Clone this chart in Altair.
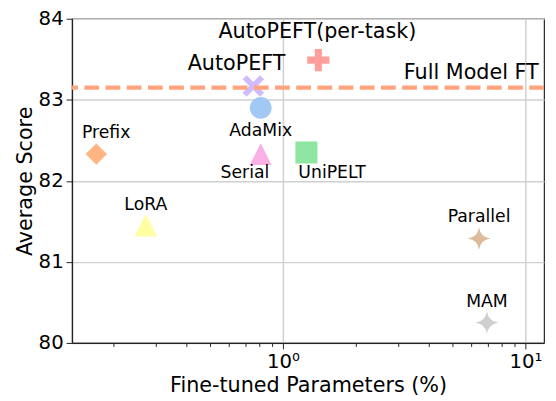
import altair as alt
import pandas as pd

methods = ["Prefix", "AutoPEFT", "AdaMix", "Serial", "UniPELT",
           "AutoPEFT(per-task)", "LoRA", "Parallel", "MAM"]
params = [0.17, 0.755, 0.81, 0.81, 1.25, 1.40, 0.272, 6.44, 6.94]
scores = [82.33, 83.17, 82.90, 82.33, 82.35, 83.49, 81.45, 81.29, 80.25]
colors = ["#FFB482", "#D0BBFF", "#A1C9F4", "#FAB0E4", "#8DE5A1",
          "#FF9F9B", "#FFFEA3", "#DEBB9B", "#CFCFCF"]

full_ft_score = 83.15

STAR = "M0,-1 Q0.12,-0.12 1,0 Q0.12,0.12 0,1 Q-0.12,0.12 -1,0 Q-0.12,-0.12 0,-1 Z"
XMARK = ("M-1,-0.62 L-0.62,-1 L0,-0.38 L0.62,-1 L1,-0.62 L0.38,0 L1,0.62 "
         "L0.62,1 L0,0.38 L-0.62,1 L-1,0.62 L-0.38,0 Z")
PLUS = ("M-1,-0.32 L-0.32,-0.32 L-0.32,-1 L0.32,-1 L0.32,-0.32 L1,-0.32 L1,0.32 "
        "L0.32,0.32 L0.32,1 L-0.32,1 L-0.32,0.32 L-1,0.32 Z")
TRI = "M0,-1 L1,1 L-1,1 Z"
shapes = ["diamond", XMARK, "circle", TRI, "square", PLUS, TRI, STAR, STAR]
sizes = [470, 530, 415, 420, 300, 620, 470, 450, 450]

# label offsets (px) relative to each point
label_dx = [10, -17, 0, -16, 26, -1, 0, 0, 0]
label_dy = [-21, -22, 24, 19, 21, -28, -21, -22, -21]
label_size = [17.5, 21, 17.5, 17.5, 17.5, 21, 17.5, 17.5, 17.5]

df = pd.DataFrame({"method": methods, "params": params, "score": scores})

FONT = "DejaVu Sans"
minor = [0.2, 0.3, 0.4, 0.5, 0.6, 0.7, 0.8, 0.9, 1, 2, 3, 4, 5, 6, 7, 8, 9, 10]

xscale = alt.Scale(type="log", domain=[0.135, 11.94], nice=False)
yscale = alt.Scale(domain=[80, 84], nice=False, zero=False)

x_enc = alt.X("params:Q", scale=xscale,
              axis=alt.Axis(values=minor, title="Fine-tuned Parameters (%)",
                            labelExpr="datum.value == 1 ? '10⁰' : (datum.value == 10 ? '10¹' : '')",
                            tickSize={"condition": {"test": "datum.value == 1 || datum.value == 10", "value": 6}, "value": 3.5},
                            gridOpacity={"condition": {"test": "datum.value == 1 || datum.value == 10", "value": 1}, "value": 0},
                            labelFontSize=20, titleFontSize=21, labelPadding=3,
                            titlePadding=3, labelFlush=False))
y_enc = alt.Y("score:Q", scale=yscale,
              axis=alt.Axis(values=[80, 81, 82, 83, 84], title="Average Score",
                            format="d",
                            labelFontSize=20, titleFontSize=21, tickSize=6,
                            labelPadding=3, titlePadding=3, labelFlush=False))

base = alt.Chart(df)

points = base.mark_point(filled=True, opacity=1, strokeWidth=0).encode(
    x=x_enc, y=y_enc,
    shape=alt.Shape("method:N", scale=alt.Scale(domain=methods, range=shapes), legend=None),
    color=alt.Color("method:N", scale=alt.Scale(domain=methods, range=colors), legend=None),
    size=alt.Size("method:N", scale=alt.Scale(domain=methods, range=sizes), legend=None),
)

labels = []
for i, m in enumerate(methods):
    labels.append(
        alt.Chart(df).transform_filter(alt.datum.method == m)
        .mark_text(dx=label_dx[i], dy=label_dy[i], fontSize=label_size[i],
                   font=FONT, color="black", align="center", baseline="middle")
        .encode(x=alt.X("params:Q", scale=xscale),
                y=alt.Y("score:Q", scale=yscale), text="method:N")
    )

ft_df = pd.DataFrame({"score": [full_ft_score], "params": [5.98], "label": ["Full Model FT"]})
ft_line = alt.Chart(ft_df).mark_rule(color="#FFA47E", strokeWidth=4.5,
                                     strokeDash=[15, 6.5]).encode(
    y=alt.Y("score:Q", scale=yscale))
ft_text = alt.Chart(ft_df).mark_text(dy=-15, fontSize=21, font=FONT, color="black",
                                     align="center", baseline="middle").encode(
    x=alt.X("params:Q", scale=xscale), y=alt.Y("score:Q", scale=yscale), text="label:N")

chart = alt.layer(points, ft_line, ft_text, *labels).properties(
    width=479, height=329,
    autosize=alt.AutoSizeParams(type="none"),
    padding={"left": 65, "top": 8, "right": 4, "bottom": 55},
).configure_axis(
    labelFont=FONT, titleFont=FONT, labelColor="black", titleColor="black",
    titleFontWeight="normal", domainColor="#222222", tickColor="#222222",
    domainWidth=1.2, tickWidth=1, gridColor="#d0d0d0", gridWidth=1.5,
).configure_view(stroke="#222222", strokeWidth=1.2)

chart.save("out.html", embed_options={"renderer": "svg", "actions": False})
